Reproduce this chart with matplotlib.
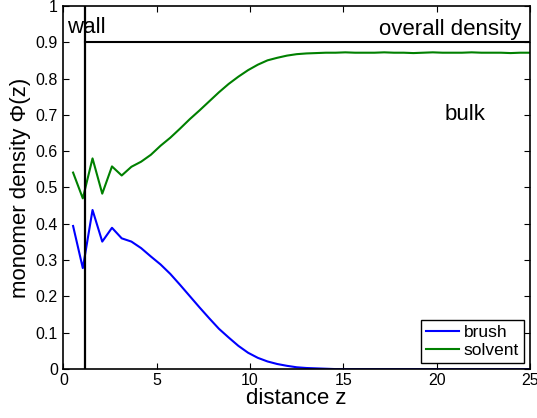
import matplotlib
matplotlib.use('Agg')
import matplotlib.pyplot as plt
import numpy as np
from matplotlib import ticker

plt.rcParams['font.family'] = ['Liberation Sans', 'DejaVu Sans']

# grid of distances from the wall (48 layers up to z = 25)
z = np.linspace(25 / 48, 25, 48)

brush = [0.394, 0.278, 0.438, 0.351, 0.389, 0.360, 0.351, 0.333, 0.310, 0.288,
         0.262, 0.232, 0.201, 0.170, 0.140, 0.111, 0.087, 0.064, 0.045, 0.031,
         0.021, 0.014, 0.009, 0.005, 0.003, 0.002, 0.001, 0.0, 0.0, 0.0,
         0.0, 0.0, 0.0, 0.0, 0.0, 0.0, 0.0, 0.0, 0.0, 0.0,
         0.0, 0.0, 0.0, 0.0, 0.0, 0.0, 0.0, 0.0]

solvent = [0.541, 0.470, 0.580, 0.483, 0.558, 0.533, 0.557, 0.571, 0.590, 0.615,
           0.637, 0.662, 0.688, 0.712, 0.737, 0.762, 0.785, 0.805, 0.823, 0.838,
           0.850, 0.857, 0.863, 0.867, 0.869, 0.870, 0.871, 0.871, 0.872, 0.871,
           0.871, 0.871, 0.872, 0.871, 0.871, 0.870, 0.871, 0.872, 0.871, 0.871,
           0.871, 0.872, 0.871, 0.871, 0.871, 0.870, 0.871, 0.871]

wall_z = 1.15
overall_density = 0.9

fig = plt.figure(figsize=(5.37, 4.18), dpi=100)
ax = fig.add_axes([0.118, 0.117, 0.869, 0.869])

ax.plot(z, brush, color=(0, 0, 1), lw=1.5, label='brush')
ax.plot(z, solvent, color=(0, 0.5, 0), lw=1.5, label='solvent')
ax.axvline(wall_z, color='black', lw=1.6)
ax.plot([wall_z, 25], [overall_density, overall_density], color='black', lw=1.5)

ax.text(0.18, 0.925, 'wall', fontsize=16, ha='left', va='baseline')
ax.text(24.55, 0.92, 'overall density', fontsize=16, ha='right', va='baseline')
ax.text(20.4, 0.685, 'bulk', fontsize=16, ha='left', va='baseline')

ax.set_xlim(0, 25)
ax.set_ylim(0, 1)
ax.set_xticks([0, 5, 10, 15, 20, 25])
ax.set_yticks(np.arange(0, 1.01, 0.1))
ax.yaxis.set_major_formatter(ticker.FormatStrFormatter('%g'))
ax.tick_params(direction='in', length=4, width=0.8, top=True, right=True,
               labelsize=11.5)
ax.tick_params(axis='x', pad=3)
ax.tick_params(axis='y', pad=4)
for s in ax.spines.values():
    s.set_linewidth(1.2)

ax.set_xlabel('distance z', fontsize=16, labelpad=0)
ax.set_ylabel('monomer density \u03a6(z)', fontsize=16, labelpad=3)

leg = ax.legend(loc='lower right', bbox_to_anchor=(1 - 6 / 467, 6 / 363),
                borderaxespad=0, fontsize=12.5, fancybox=False, framealpha=1,
                edgecolor='black', handlelength=1.9, handletextpad=0.25,
                borderpad=0.3, labelspacing=0.15)
leg.get_frame().set_linewidth(1.0)

fig.savefig('out.png', dpi=100)
